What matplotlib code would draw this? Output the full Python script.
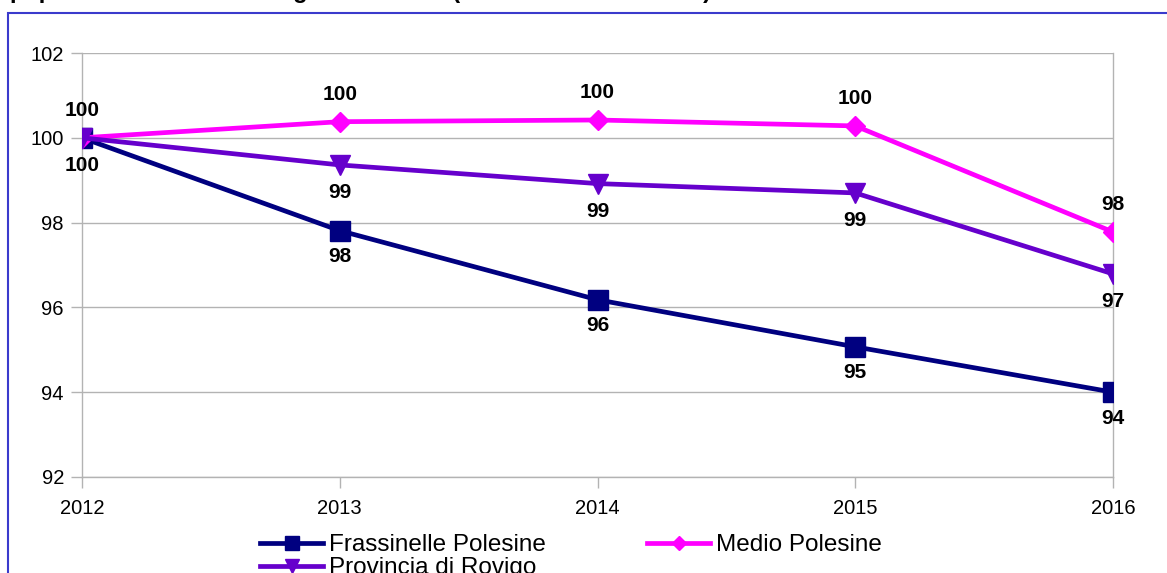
import matplotlib
matplotlib.use("Agg")
import matplotlib.pyplot as plt
from matplotlib.patches import Rectangle

plt.rcParams['font.family'] = ['Liberation Sans', 'DejaVu Sans']

years = [2012, 2013, 2014, 2015, 2016]
frassinelle = [100.0, 97.81, 96.18, 95.07, 94.0]
medio = [100.0, 100.38, 100.42, 100.28, 97.78]
provincia = [100.0, 99.36, 98.92, 98.70, 96.79]
series_names = ["Frassinelle Polesine", "Medio Polesine", "Provincia di Rovigo"]
yticks = [92, 94, 96, 98, 100, 102]
title = "popolazione residente negli ultimi anni (anno base 2012 = 100)"

W, H = 1167, 573
fig = plt.figure(figsize=(W / 100, H / 100), dpi=100)

# frame border
fig.patches.append(Rectangle((8 / W, -0.1), 1.2, 1 - 13 / H + 0.1,
                             transform=fig.transFigure, fill=False,
                             edgecolor='#3a3acc', linewidth=1.5))

fig.text(10 / W, 1 + 2 / H, title, ha='left', va='baseline',
         fontsize=17, fontweight='bold', color='black')

left, right = 82 / W, 1113 / W
top, bottom = 1 - 53 / H, 1 - 477 / H
ax = fig.add_axes([left, bottom, right - left, top - bottom])

l1, = ax.plot(years, frassinelle, color='#000080', lw=3.4, marker='s',
              markersize=14, label=series_names[0], zorder=3)
l2, = ax.plot(years, medio, color='#ff00ff', lw=3.4, marker='D',
              markersize=10, label=series_names[1], zorder=4)
l3, = ax.plot(years, provincia, color='#6600cc', lw=3.4, marker='v',
              markersize=14, label=series_names[2], zorder=5)

lab_kw = dict(fontsize=15, fontweight='bold', ha='center', color='black')
for x, y in zip(years, medio):
    ax.annotate(f"{round(y)}", (x, y), xytext=(0, 13), textcoords='offset points',
                va='bottom', **lab_kw)
for x, y in zip(years, provincia):
    ax.annotate(f"{round(y)}", (x, y), xytext=(0, -13), textcoords='offset points',
                va='top', **lab_kw)
for x, y in zip(years[1:], frassinelle[1:]):
    ax.annotate(f"{round(y)}", (x, y), xytext=(0, -12), textcoords='offset points',
                va='top', **lab_kw)

ax.set_xlim(2012, 2016)
ax.set_ylim(92, 102)
ax.set_yticks(yticks)
ax.set_xticks(years)
ax.grid(axis='y', color='#b3b3b3', lw=1)
ax.set_axisbelow(True)
for s in ax.spines.values():
    s.set_color('#b3b3b3')
    s.set_linewidth(1)
ax.spines['top'].set_visible(False)
ax.tick_params(axis='both', colors='#b3b3b3', labelcolor='black',
               labelsize=14.5, length=8, width=1)
ax.tick_params(axis='x', pad=8)
ax.tick_params(axis='y', pad=5)

fig.legend(handles=[l1, l3, l2], labels=[series_names[0], series_names[2], series_names[1]],
           ncol=2, loc='upper left', bbox_to_anchor=(260 / W, 1 - 534 / H),
           frameon=False, fontsize=17.5, handlelength=2.6, columnspacing=4.15,
           labelspacing=0.05, handletextpad=0.25, borderaxespad=0, borderpad=0,
           markerscale=0.72)

fig.savefig("out.png", dpi=100)
